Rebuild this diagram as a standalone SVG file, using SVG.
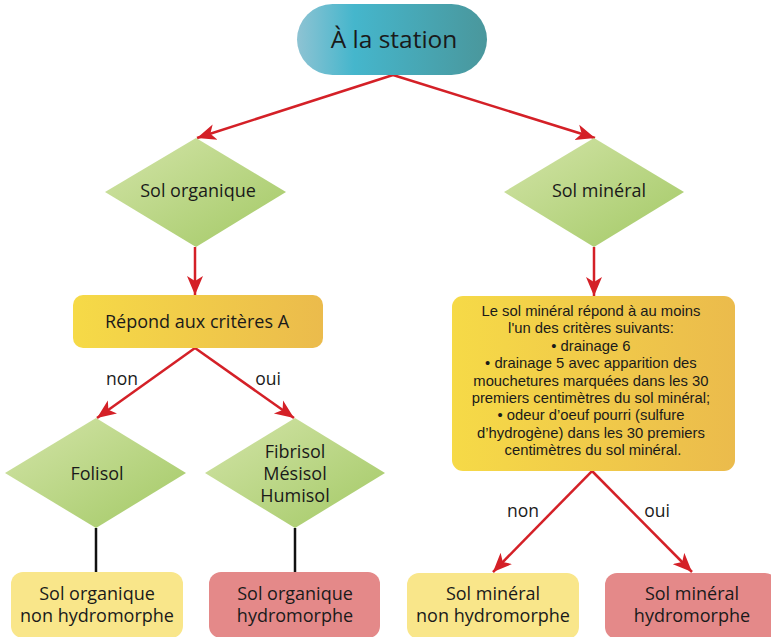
<svg xmlns="http://www.w3.org/2000/svg" width="771" height="637" viewBox="0 0 771 637">
<defs>
<linearGradient id="gPill" x1="0" y1="0" x2="1" y2="0">
<stop offset="0" stop-color="#8ec3d3"/><stop offset="0.3" stop-color="#45b6cc"/><stop offset="1" stop-color="#4a979c"/>
</linearGradient>
<linearGradient id="gDia" x1="0" y1="0" x2="1" y2="1">
<stop offset="0" stop-color="#d3e4a8"/><stop offset="1" stop-color="#a3c965"/>
</linearGradient>
<linearGradient id="gBox" x1="0" y1="0" x2="1" y2="0">
<stop offset="0" stop-color="#f6da47"/><stop offset="1" stop-color="#ebbb4c"/>
</linearGradient>
<marker id="ah" markerUnits="userSpaceOnUse" markerWidth="20" markerHeight="18" viewBox="0 -9 20 18" refX="19" refY="0" orient="auto">
<path d="M0,-8 L19,0 L0,8 L5,0 Z" fill="#d42027"/>
</marker>
<style>
.t{font-family:"Open Sans","Noto Sans",sans-serif;fill:#1a1a1a;text-anchor:middle}
.s{font-family:"Liberation Sans",Arial,sans-serif;fill:#1a1a1a;text-anchor:middle}
.a{stroke:#d42027;stroke-width:2.5;fill:none;marker-end:url(#ah)}
.k{stroke:#111;stroke-width:2.5;fill:none}
.dia{fill:url(#gDia)}
.box{fill:url(#gBox)}
.ly{fill:#f9e68a}
.rd{fill:#e48989}
</style>
</defs>
<g id="connectors">
<path class="a" d="M393,75 L197,138"/>
<path class="a" d="M393,75 L595,138"/>
<path class="a" d="M195,247 L195,295"/>
<path class="a" d="M594,247 L594,296"/>
<path class="a" d="M195,348 L97,418"/>
<path class="a" d="M195,348 L294,418"/>
<path class="a" d="M592,471 L493,572"/>
<path class="a" d="M592,471 L692,572"/>
<path class="k" d="M96,528 L96,572"/>
<path class="k" d="M295,528 L295,572"/>
<text class="t" x="122" y="385" font-size="17.5">non</text>
<text class="t" x="268" y="385" font-size="17.5">oui</text>
<text class="t" x="523" y="517" font-size="17.5">non</text>
<text class="t" x="657" y="517" font-size="17.5">oui</text>
</g>
<g id="station">
<rect x="297" y="4" width="190" height="71" rx="35.5" fill="url(#gPill)"/>
<text class="t" x="394" y="48" font-size="24.5">À la station</text>
</g>
<g id="sol-organique">
<polygon class="dia" points="196,138 286,192 196,247 105,192"/>
<text class="t" x="198" y="197" font-size="18">Sol organique</text>
</g>
<g id="sol-mineral">
<polygon class="dia" points="594,138 684,192 594,247 504,192"/>
<text class="t" x="599" y="197" font-size="18">Sol minéral</text>
</g>
<g id="criteres-a">
<rect class="box" x="73" y="295" width="250" height="53" rx="10"/>
<text class="t" x="197" y="328" font-size="18">Répond aux critères A</text>
</g>
<g id="criteres-mineral">
<rect class="box" x="452" y="296" width="283" height="175" rx="11"/>
<text class="s" font-size="14.8">
<tspan x="593" y="316">Le sol minéral répond à au moins</tspan>
<tspan x="593" y="333.4">l'un des critères suivants:</tspan>
<tspan x="593" y="350.8">• drainage 6</tspan>
<tspan x="593" y="368.2">• drainage 5 avec apparition des</tspan>
<tspan x="593" y="385.6">mouchetures marquées dans les 30</tspan>
<tspan x="593" y="403">premiers centimètres du sol minéral;</tspan>
<tspan x="593" y="420.4">• odeur d’oeuf pourri (sulfure</tspan>
<tspan x="593" y="437.8">d’hydrogène) dans les 30 premiers</tspan>
<tspan x="593" y="455.2">centimètres du sol minéral.</tspan>
</text>
</g>
<g id="folisol">
<polygon class="dia" points="96,418 186,473 96,528 5,473"/>
<text class="t" x="97" y="480" font-size="18">Folisol</text>
</g>
<g id="fibrisol">
<polygon class="dia" points="295,418 385,473 295,528 205,473"/>
<text class="t" font-size="18"><tspan x="295" y="458">Fibrisol</tspan><tspan x="295" y="480">Mésisol</tspan><tspan x="295" y="502">Humisol</tspan></text>
</g>
<g id="org-non-hydro">
<rect class="ly" x="11" y="572" width="172" height="66" rx="12"/>
<text class="t" font-size="18"><tspan x="97" y="600">Sol organique</tspan><tspan x="97" y="622">non hydromorphe</tspan></text>
</g>
<g id="org-hydro">
<rect class="rd" x="209" y="572" width="171" height="66" rx="12"/>
<text class="t" font-size="18"><tspan x="295" y="600">Sol organique</tspan><tspan x="295" y="622">hydromorphe</tspan></text>
</g>
<g id="min-non-hydro">
<rect class="ly" x="407" y="573" width="172" height="66" rx="12"/>
<text class="t" font-size="18"><tspan x="493" y="600">Sol minéral</tspan><tspan x="493" y="622">non hydromorphe</tspan></text>
</g>
<g id="min-hydro">
<rect class="rd" x="605" y="573" width="172" height="66" rx="12"/>
<text class="t" font-size="18"><tspan x="692" y="600">Sol minéral</tspan><tspan x="692" y="622">hydromorphe</tspan></text>
</g>
</svg>
